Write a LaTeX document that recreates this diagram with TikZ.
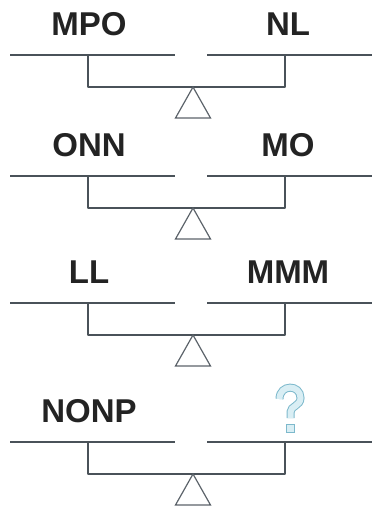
\documentclass[tikz,border=0pt]{standalone}
\usepackage{fontspec}
\setmainfont{Liberation Sans}
\usepackage{xcolor}
\usepackage{tikz}
\usetikzlibrary{positioning}

\definecolor{beamgray}{HTML}{4A5259}
\definecolor{textgray}{HTML}{232323}
\definecolor{qline}{HTML}{7DB9CC}
\definecolor{qfill}{HTML}{D9EEF4}

\begin{document}
\begin{tikzpicture}[
    x=1pt, y=-1pt,
    plate/.style={draw=beamgray, line width=1.8pt},
    beam/.style={draw=beamgray, line width=1.8pt, line join=round},
    pivot/.style={draw=beamgray!90, line width=1.2pt, line join=miter},
    weight/.style={font=\fontsize{33}{36}\selectfont\bfseries, text=textgray, inner sep=0pt}
]

\useasboundingbox (0,0) rectangle (374,508);

% Four balances, top to bottom
\foreach \i/\py/\lt/\rt in {1/55/MPO/NL, 2/176/ONN/MO, 3/303/LL/MMM, 4/442/NONP/{}} {
  % plates
  \coordinate (l\i a) at (10,\py);  \coordinate (l\i b) at (175,\py);
  \coordinate (r\i a) at (207,\py); \coordinate (r\i b) at (372,\py);
  \draw[plate] (l\i a) -- (l\i b);
  \draw[plate] (r\i a) -- (r\i b);
  % hanger and beam
  \coordinate (lp\i) at (88,\py);  \coordinate (rp\i) at (285,\py);
  \coordinate (top\i) at (193,\py+32);
  \draw[beam] (lp\i) |- (top\i) -| (rp\i);
  % pivot
  \coordinate (bl\i) at (175.5,\py+63); \coordinate (br\i) at (210.5,\py+63);
  \draw[pivot] (top\i) -- (bl\i) -- (br\i) -- cycle;
  % weights
  \node[weight] (lt\i) at (89,\py-31) {\lt};
  \node[weight] (rt\i) at (288,\py-31) {\rt};
}

% Question mark on the last right plate
\draw[draw=qline, line width=1pt, double=qfill, double distance=6pt, line cap=butt]
  (279.5,399) .. controls (279.5,384) and (300.5,384) .. (300.5,398)
  .. controls (300.5,406) and (290.5,406) .. (290.5,412) -- (290.5,418);
\draw[draw=qline, fill=qfill, line width=1pt] (286.5,424) rectangle (294.5,432);

\end{tikzpicture}
\end{document}
